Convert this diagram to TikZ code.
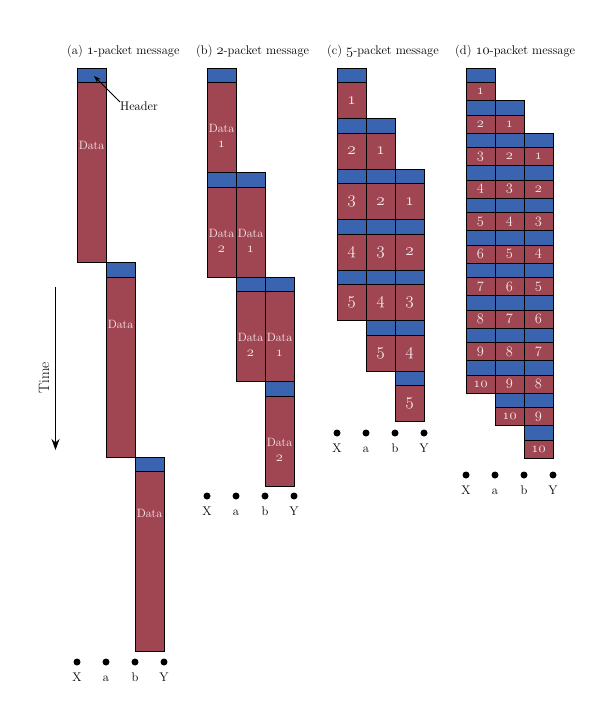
\documentclass[tikz,border=0pt]{standalone}
\usetikzlibrary{arrows.meta}
\definecolor{hblue}{RGB}{59,100,176}
\definecolor{dred}{RGB}{160,70,82}
\definecolor{ltxt}{RGB}{248,236,238}
\newcommand\osn[1]{{\fontencoding{OML}\fontfamily{cmm}\fontseries{m}\fontshape{it}\selectfont #1}}
\tikzset{
  cell/.style={draw=black, line width=0.8pt, minimum width=29pt, inner sep=0pt, outer sep=0pt, anchor=north west},
  hdr/.style={cell, fill=hblue},
  dat/.style={cell, fill=dred},
  dtext/.style={text=ltxt, font=\fontsize{12}{15}\selectfont, align=center, inner sep=0pt},
  ntext/.style={text=ltxt, inner sep=0pt},
  ttl/.style={font=\fontsize{12.5}{14}\selectfont, anchor=base west, inner sep=0pt},
  lab/.style={font=\fontsize{12.5}{14}\selectfont, anchor=base, inner sep=0pt},
  dotn/.style={circle, fill=black, minimum size=7pt, inner sep=0pt},
}
\begin{document}
\begin{tikzpicture}[x=1pt,y=-1pt]
\useasboundingbox (0,0) rectangle (612,708);
% titles
\node[ttl] (ta) at (67,55) {(a) \osn{\fontsize{14}{14}\selectfont 1}-packet message};
\node[ttl] (tb) at (196,55) {(b) \osn{\fontsize{14}{14}\selectfont 2}-packet message};
\node[ttl] (tc) at (327,55) {(c) \osn{\fontsize{14}{14}\selectfont 5}-packet message};
\node[ttl] (td) at (455,55) {(d) \osn{\fontsize{14}{14}\selectfont 10}-packet message};
% panel (a)
\foreach \j/\off in {0/62.5,1/47,2/41.5} {
  \pgfmathsetmacro\xx{77+29*\j}
  \pgfmathsetmacro\yy{68+194.5*\j}
  \node[hdr, minimum height=14.5] (a\j-h) at (\xx,\yy) {};
  \node[dat, minimum height=180] (a\j-d) at (\xx,\yy+14.5) {};
  \node[dtext] (a\j-t) at (\xx+14.5,\yy+14.5+\off) {Data};
}
% header annotation
\node[font=\fontsize{12.5}{14}\selectfont, inner sep=0pt] (hlab) at (139,106.5) {Header};
\coordinate (htip) at (94,76);
\draw[line width=0.8pt, -{Stealth[length=7pt,width=5pt]}] (hlab.north west) -- (htip);
% panel (b)
\foreach \k in {1,2} {
  \foreach \j in {0,1,2} {
    \pgfmathsetmacro\xx{207+29*\j}
    \pgfmathsetmacro\yy{68+104.5*(\k-1+\j)}
    \node[hdr, minimum height=14.5] (b\k\j-h) at (\xx,\yy) {};
    \node[dat, minimum height=90] (b\k\j-d) at (\xx,\yy+14.5) {};
    \node[dtext] (b\k\j-t) at (\xx+14.5,\yy+14.5+53.5) {Data\\\osn{\fontsize{14}{15}\selectfont\k}};
  }
}
% panel (c)
\foreach \k in {1,...,5} {
  \foreach \j in {0,1,2} {
    \pgfmathsetmacro\xx{337+29*\j}
    \pgfmathsetmacro\yy{68+50.5*(\k-1+\j)}
    \node[hdr, minimum height=14.5] (c\k\j-h) at (\xx,\yy) {};
    \node[dat, minimum height=36] (c\k\j-d) at (\xx,\yy+14.5) {};
    \node[ntext, font=\fontsize{17}{19}\selectfont] (c\k\j-t) at (\xx+14.5,\yy+14.5+18) {\osn{\k}};
  }
}
% panel (d)
\foreach \k in {1,...,10} {
  \foreach \j in {0,1,2} {
    \pgfmathsetmacro\xx{466+29*\j}
    \pgfmathsetmacro\yy{68+32.5*(\k-1+\j)}
    \node[hdr, minimum height=14.5] (d\k\j-h) at (\xx,\yy) {};
    \node[dat, minimum height=18] (d\k\j-d) at (\xx,\yy+14.5) {};
    \node[ntext, font=\fontsize{14}{16}\selectfont] (d\k\j-t) at (\xx+14.5,\yy+14.5+9) {\osn{\k}};
  }
}
% node dots and labels
\foreach \p/\xo/\yd in {a/77/662, b/207/496, c/337/433, d/466/475} {
  \foreach \n [count=\i from 0] in {X,a,b,Y} {
    \node[dotn] (\p-\n) at (\xo+29*\i,\yd) {};
    \node[lab] (\p-\n-l) at (\xo+29*\i,\yd+19) {\n};
  }
}
% time arrow
\coordinate (t0) at (55.5,287);
\coordinate (t1) at (55.5,450);
\draw[line width=1.3pt, -{Stealth[length=11pt,width=8pt]}] (t0) -- (t1);
\node[rotate=90, font=\fontsize{15}{17}\selectfont, inner sep=0pt] (tlab) at (44,378) {Time};
\end{tikzpicture}
\end{document}
